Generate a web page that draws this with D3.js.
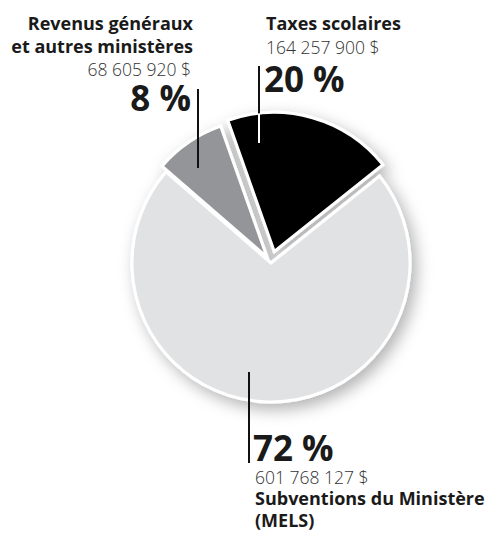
<!DOCTYPE html>
<html>
<head>
<meta charset="utf-8">
<script src="https://cdn.jsdelivr.net/npm/d3@7"></script>
<style>
  body { margin: 0; background: #fff; }
  svg { display: block; font-family: "Open Sans", sans-serif; }
</style>
</head>
<body>
<script>
// Budget revenue sources
const categories = ["Taxes scolaires", "Subventions du Ministère (MELS)", "Revenus généraux et autres ministères"];
const amounts = [164257900, 601768127, 68605920];
const amountLabels = ["164 257 900 $", "601 768 127 $", "68 605 920 $"];
const percentLabels = ["20 %", "72 %", "8 %"];
const colors = ["#000000", "#e1e2e3", "#939598"];

const width = 493, height = 538;
const cx = 271, cy = 263, radius = 139;
const explode = [12, 0, 7];
const toRad = deg => deg * Math.PI / 180;

const svg = d3.select("body").append("svg")
  .attr("width", width)
  .attr("height", height);

const defs = svg.append("defs");
const shadow = defs.append("filter").attr("id", "shadow")
  .attr("x", "-20%").attr("y", "-20%").attr("width", "150%").attr("height", "150%");
shadow.append("feDropShadow")
  .attr("dx", 5).attr("dy", 6).attr("stdDeviation", 8)
  .attr("flood-color", "#000").attr("flood-opacity", 0.3);

const pie = d3.pie().sort(null)
  .startAngle(toRad(-19.5))
  .endAngle(toRad(-19.5) + 2 * Math.PI);
const arcs = pie(amounts);
const arc = d3.arc().innerRadius(0).outerRadius(radius);

function offset(d, i) {
  const mid = (d.startAngle + d.endAngle) / 2;
  return [Math.sin(mid) * explode[i], -Math.cos(mid) * explode[i]];
}

const pieG = svg.append("g")
  .attr("transform", "translate(" + cx + "," + cy + ")")
  .attr("filter", "url(#shadow)");

pieG.selectAll("path.slice")
  .data(arcs)
  .enter().append("path")
  .attr("class", "slice")
  .attr("d", arc)
  .attr("transform", (d, i) => "translate(" + offset(d, i) + ")")
  .attr("fill", (d, i) => colors[i])
  .attr("stroke", "#fff")
  .attr("stroke-width", 3)
  .attr("stroke-linejoin", "miter");

// clip path for the black slice so its leader turns white inside it
defs.append("clipPath").attr("id", "clipBlack")
  .append("path")
  .attr("d", arc(arcs[0]))
  .attr("transform", "translate(" + (cx + offset(arcs[0], 0)[0]) + "," + (cy + offset(arcs[0], 0)[1]) + ")");

// leader lines
const leaders = [
  { x: 259, y1: 66, y2: 143 },
  { x: 249, y1: 372, y2: 463 },
  { x: 198, y1: 89, y2: 168 }
];
const lg = svg.append("g");
leaders.forEach(l => {
  lg.append("line")
    .attr("x1", l.x).attr("x2", l.x).attr("y1", l.y1).attr("y2", l.y2)
    .attr("stroke", "#111").attr("stroke-width", 2);
});
lg.append("line")
  .attr("x1", leaders[0].x).attr("x2", leaders[0].x)
  .attr("y1", leaders[0].y1).attr("y2", leaders[0].y2)
  .attr("stroke", "#fff").attr("stroke-width", 2)
  .attr("clip-path", "url(#clipBlack)");

const ink = "#1a1a1a";
const light = "#333333";

function text(x, y, str, opts) {
  return svg.append("text")
    .attr("x", x).attr("y", y)
    .attr("text-anchor", opts.anchor || "start")
    .style("font-size", opts.size + "px")
    .style("font-weight", opts.weight || 400)
    .attr("fill", opts.fill || ink)
    .text(str);
}

const lblSize = 18, amtSize = 17.5, pctSize = 35;

// Taxes scolaires (top right)
text(266, 30, categories[0], { size: lblSize, weight: 700 });
text(266, 54, amountLabels[0], { size: amtSize, weight: 300, fill: light });
text(264, 92, percentLabels[0], { size: pctSize, weight: 700 });

// Revenus généraux (top left)
text(193, 30, "Revenus généraux", { size: lblSize, weight: 700, anchor: "end" });
text(193, 53, "et autres ministères", { size: lblSize, weight: 700, anchor: "end" });
text(191, 76, amountLabels[2], { size: amtSize, weight: 300, anchor: "end", fill: light });
text(191, 111, percentLabels[2], { size: pctSize, weight: 700, anchor: "end" });

// Subventions (bottom)
text(253, 461, percentLabels[1], { size: pctSize, weight: 700 });
text(255, 484, amountLabels[1], { size: amtSize, weight: 300, fill: light });
text(255, 505, "Subventions du Ministère", { size: lblSize, weight: 700 });
text(255, 527, "(MELS)", { size: lblSize, weight: 700 });
</script>
</body>
</html>
